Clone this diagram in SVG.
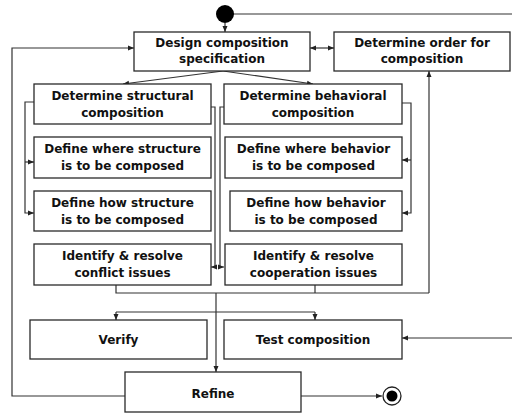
<svg xmlns="http://www.w3.org/2000/svg" width="512" height="413" viewBox="0 0 512 413">
  <style>
    .box { fill: #ffffff; stroke: #2a2a2a; stroke-width: 1.3; }
    .lbl { font-family: "DejaVu Sans", Verdana, sans-serif; font-weight: bold; font-size: 12px; fill: #111111; text-anchor: middle; }
    .wire { fill: none; stroke: #333333; stroke-width: 1.2; }
    .arr { marker-end: url(#head); }
  </style>
  <defs>
    <marker id="head" markerUnits="userSpaceOnUse" markerWidth="6" markerHeight="6" refX="6" refY="3" orient="auto">
      <path d="M0,0.5 L6,3 L0,5.5 z" fill="#222222"/>
    </marker>
    <marker id="tail" markerUnits="userSpaceOnUse" markerWidth="6" markerHeight="6" refX="0" refY="3" orient="auto">
      <path d="M6,0.5 L0,3 L6,5.5 z" fill="#222222"/>
    </marker>
  </defs>
  <rect width="512" height="413" fill="#ffffff"/>

  <!-- connectors -->
  <g id="connectors">
    <line class="wire" x1="233" y1="14" x2="512" y2="14"/>
    <line class="wire arr" x1="225" y1="23" x2="225" y2="32"/>
    <line class="wire arr" x1="310" y1="48" x2="334" y2="48" style="marker-start:url(#tail)"/>
    <line class="wire arr" x1="223" y1="71" x2="123" y2="84"/>
    <line class="wire arr" x1="223" y1="71" x2="313" y2="84"/>
    <!-- structural bracket -->
    <path class="wire arr" d="M34,102 H25 V213 H34"/>
    <path class="wire arr" d="M25,162 H34"/>
    <!-- behavioral bracket -->
    <path class="wire arr" d="M402,103 H411 V213 H402"/>
    <path class="wire arr" d="M411,160 H402"/>
    <!-- to conflict / cooperation -->
    <path class="wire arr" d="M211,107 H215 V267 H211"/>
    <path class="wire arr" d="M224,107 H220 V267 H224"/>
    <!-- merge below issues -->
    <path class="wire" d="M116,285 V293 H429"/>
    <path class="wire" d="M315,285 V293"/>
    <path class="wire arr" d="M429,293 V71"/>
    <path class="wire arr" d="M216,293 V372"/>
    <path class="wire" d="M116,312 H315"/>
    <path class="wire arr" d="M116,312 V320"/>
    <path class="wire arr" d="M315,312 V320"/>
    <path class="wire arr" d="M512,338 H402"/>
    <!-- refine loop and exit -->
    <path class="wire arr" d="M125,396 H12 V48 H134"/>
    <path class="wire arr" d="M301,396 H382"/>
  </g>

  <g id="start">
    <circle cx="225" cy="14" r="9" fill="#000000"/>
  </g>

  <g id="design-spec">
    <rect class="box" x="134" y="32" width="176" height="39"/>
    <text class="lbl" x="222" y="47">Design composition</text>
    <text class="lbl" x="222" y="63">specification</text>
  </g>

  <g id="order">
    <rect class="box" x="334" y="32" width="176" height="39"/>
    <text class="lbl" x="422" y="47">Determine order for</text>
    <text class="lbl" x="422" y="63">composition</text>
  </g>

  <g id="structural">
    <rect class="box" x="34" y="84" width="177" height="40"/>
    <text class="lbl" x="122.5" y="100">Determine structural</text>
    <text class="lbl" x="122.5" y="117">composition</text>
  </g>

  <g id="behavioral">
    <rect class="box" x="224" y="84" width="178" height="40"/>
    <text class="lbl" x="313" y="100">Determine behavioral</text>
    <text class="lbl" x="313" y="117">composition</text>
  </g>

  <g id="where-structure">
    <rect class="box" x="34" y="137" width="177" height="41"/>
    <text class="lbl" x="122.5" y="153">Define where structure</text>
    <text class="lbl" x="122.5" y="170">is to be composed</text>
  </g>

  <g id="where-behavior">
    <rect class="box" x="225" y="137" width="177" height="41"/>
    <text class="lbl" x="313.5" y="153">Define where behavior</text>
    <text class="lbl" x="313.5" y="170">is to be composed</text>
  </g>

  <g id="how-structure">
    <rect class="box" x="34" y="191" width="177" height="40"/>
    <text class="lbl" x="122.5" y="207">Define how structure</text>
    <text class="lbl" x="122.5" y="224">is to be composed</text>
  </g>

  <g id="how-behavior">
    <rect class="box" x="230" y="191" width="172" height="40"/>
    <text class="lbl" x="316" y="207">Define how behavior</text>
    <text class="lbl" x="316" y="224">is to be composed</text>
  </g>

  <g id="conflict">
    <rect class="box" x="34" y="244" width="177" height="41"/>
    <text class="lbl" x="122.5" y="260">Identify &amp; resolve</text>
    <text class="lbl" x="122.5" y="277">conflict issues</text>
  </g>

  <g id="cooperation">
    <rect class="box" x="225" y="244" width="177" height="41"/>
    <text class="lbl" x="313.5" y="260">Identify &amp; resolve</text>
    <text class="lbl" x="313.5" y="277">cooperation issues</text>
  </g>

  <g id="verify">
    <rect class="box" x="30" y="320" width="177" height="39"/>
    <text class="lbl" x="118.5" y="344">Verify</text>
  </g>

  <g id="test">
    <rect class="box" x="224" y="320" width="178" height="39"/>
    <text class="lbl" x="313" y="344">Test composition</text>
  </g>

  <g id="refine">
    <rect class="box" x="125" y="372" width="176" height="40"/>
    <text class="lbl" x="213" y="398">Refine</text>
  </g>

  <g id="end">
    <circle cx="392" cy="396" r="9" fill="#ffffff" stroke="#222222" stroke-width="1.3"/>
    <circle cx="392" cy="396" r="5.5" fill="#000000"/>
  </g>
</svg>
